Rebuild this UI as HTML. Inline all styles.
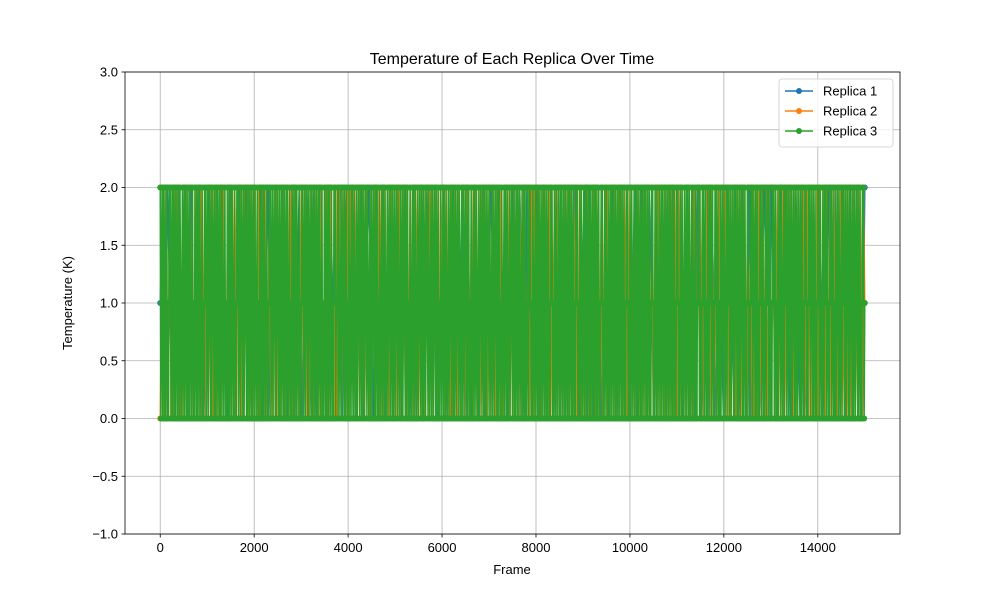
<!DOCTYPE html>
<html><head><meta charset="utf-8"><style>
html,body{margin:0;padding:0;background:#fff;}
svg{display:block;font-family:"Liberation Sans","DejaVu Sans",sans-serif;}
</style></head><body>
<svg id="chart" width="1000" height="600" viewBox="0 0 1000 600">
<rect x="0" y="0" width="1000" height="600" fill="#fff"/>
<g id="grid"></g>
<g id="series"></g>
<rect x="125" y="72" width="775" height="462" fill="none" stroke="#000" stroke-width="0.8"/>
<g id="xticks"></g>
<g id="yticks"></g>
<text x="512" y="64" text-anchor="middle" font-size="16">Temperature of Each Replica Over Time</text>
<text x="512" y="574" text-anchor="middle" font-size="13">Frame</text>
<text x="72" y="303" text-anchor="middle" font-size="13" transform="rotate(-90 72 303)">Temperature (K)</text>
<g id="legend"></g>
</svg>
<script>
const xTicks = [0, 2000, 4000, 6000, 8000, 10000, 12000, 14000];
const yTicks = [-1.0, -0.5, 0.0, 0.5, 1.0, 1.5, 2.0, 2.5, 3.0];
const seriesNames = ["Replica 1", "Replica 2", "Replica 3"];
const seriesColors = ["#1f77b4", "#ff7f0e", "#2ca02c"];
const blockA = "1202101201210201201021012021021012012102102012012102101201201210201201021012021021012012102102012012102101201201210201201021012021021012012102102012012102101201201210201201021012021021012012102102012012102101201201210201201021012021021012012102102012012102101201201210201201021012021021012012102";
const blockB = "0120210120102120201021201201021021201201021201201020121021012021201201210201210201201210201201021201021201210201201021201201021021201201021201201020121021012021201201210201210201201210201201021201021201210201201021201201021021201201021201201020121021012021201201210201210201201210201201021201";
const blockC = "2012021020120102120120210201201202101201202102012021012010210201202101201021201201210201210201202102012021012010210201202101201021201201210201210201202102012021012010210201202101201021201201210201210201202102012021012010210201202101201021201201210201210201202102012021012010210201202101201021201";
const blockD = "1020120210210120120201021021201021012012021020120120210201201021201021021012012021021020120120210201201021201021021012012021021020120120210201201021201021021012012021021020120120210201201021201021021012012021021020120120210201201021201021021012012021021020120120210201201021201021021012012021021";
const replica1 = blockA;
const replica2 = blockB + blockD;
const replica3 = blockC + blockA + blockD + blockB;
const seriesData = [replica1, replica2, replica3];

const X0 = 125, X1 = 900, Y0 = 72, Y1 = 534;
const xMin = -750, xMax = 15750, yMin = -1, yMax = 3;
const xs = v => X0 + (v - xMin) / (xMax - xMin) * (X1 - X0);
const ys = v => Y1 - (v - yMin) / (yMax - yMin) * (Y1 - Y0);
const NS = "http://www.w3.org/2000/svg";
function mk(tag, attrs, parent) {
  const e = document.createElementNS(NS, tag);
  for (const k in attrs) e.setAttribute(k, attrs[k]);
  parent.appendChild(e);
  return e;
}
const grid = document.getElementById('grid');
const xt = document.getElementById('xticks');
const yt = document.getElementById('yticks');
xTicks.forEach(v => {
  const x = xs(v);
  const g = mk('line', {x1: x, x2: x, y1: Y0, y2: Y1, stroke: '#b0b0b0', 'stroke-width': 0.8}, grid);
  
  
  const t = mk('line', {x1: x, x2: x, y1: Y1, y2: Y1 + 3.5, stroke: '#000', 'stroke-width': 0.8}, xt);
  
  
  const l = mk('text', {x: x, y: Y1 + 18, 'text-anchor': 'middle', 'font-size': 13}, xt);
  l.textContent = String(v);
  
  
});
yTicks.forEach(v => {
  const y = ys(v);
  const g = mk('line', {x1: X0, x2: X1, y1: y, y2: y, stroke: '#b0b0b0', 'stroke-width': 0.8}, grid);
  
  
  const t = mk('line', {x1: X0 - 3.5, x2: X0, y1: y, y2: y, stroke: '#000', 'stroke-width': 0.8}, yt);
  
  
  const l = mk('text', {x: X0 - 7, y: y + 4.5, 'text-anchor': 'end', 'font-size': 13}, yt);
  l.textContent = (v < 0 ? '\u2212' + Math.abs(v).toFixed(1) : v.toFixed(1));
  
  
});
const sl = document.getElementById('series');
seriesData.forEach((str, i) => {
  const vals = str.split('').map(Number);
  const n = vals.length;
  const step = 15000 / (n - 1);
  const g = mk('g', {}, sl);
  
  
  const pts = vals.map((v, k) => xs(k * step).toFixed(2) + ',' + ys(v).toFixed(2)).join(' ');
  const pl = mk('polyline', {points: pts, fill: 'none', stroke: seriesColors[i], 'stroke-width': 1.5}, g);
  
  
  vals.forEach((v, k) => {
    const c = mk('circle', {cx: xs(k * step), cy: ys(v), r: 3, fill: seriesColors[i]}, g);
    
    
  });
});
const lg = document.getElementById('legend');
const box = mk('rect', {x: 779, y: 79, width: 114, height: 68, rx: 3, fill: '#fff', 'fill-opacity': 0.8, stroke: '#ccc', 'stroke-width': 0.8}, lg);


seriesNames.forEach((name, i) => {
  const y = 91 + i * 20;
  const g = mk('g', {}, lg);
  
  
  mk('line', {x1: 785, x2: 813, y1: y, y2: y, stroke: seriesColors[i], 'stroke-width': 1.5}, g);
  mk('circle', {cx: 799, cy: y, r: 3, fill: seriesColors[i]}, g);
  const t = mk('text', {x: 823, y: y + 4.5, 'font-size': 13}, g);
  t.textContent = name;
  
  
});
</script>
</body></html>
